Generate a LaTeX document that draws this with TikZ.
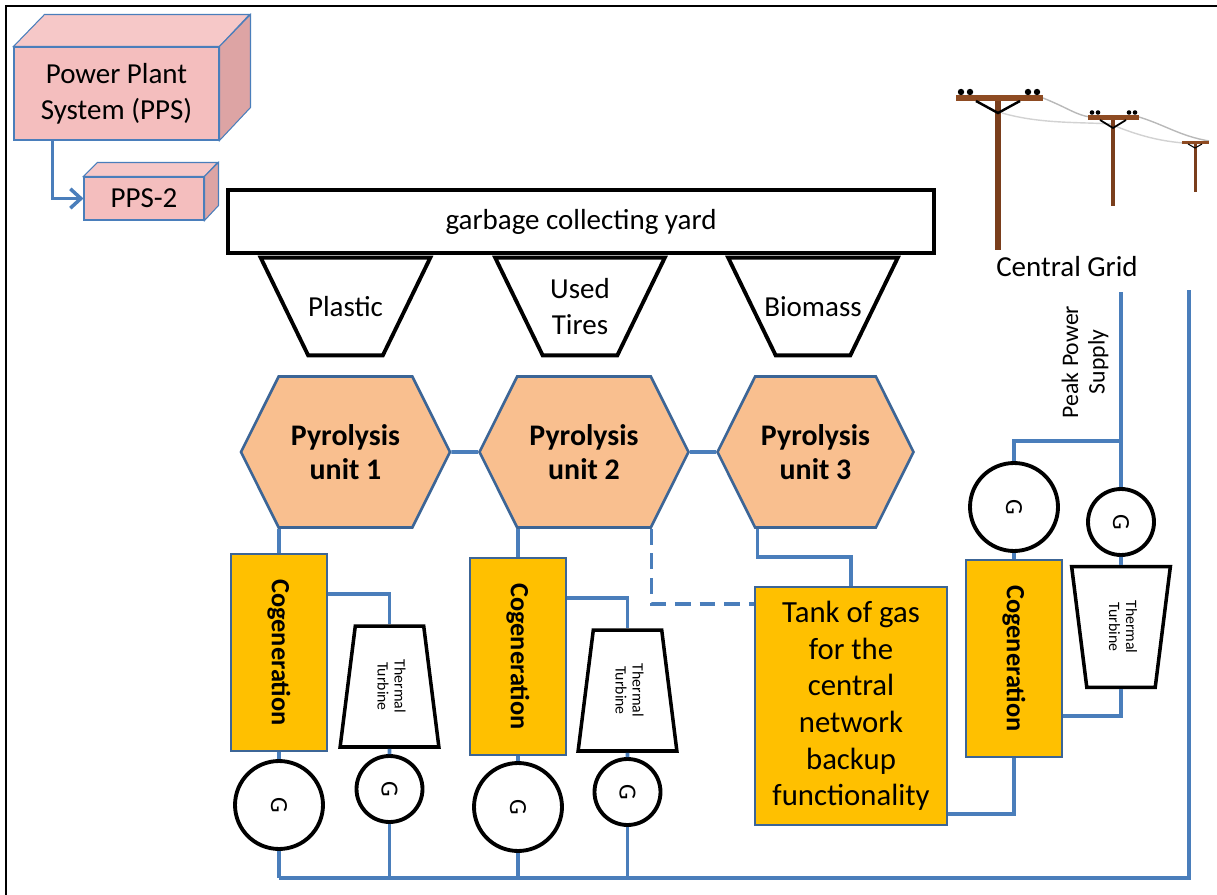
\documentclass[tikz,border=0pt]{standalone}
\usepackage{fontspec}
\setmainfont{Carlito}
\usepackage{graphicx}
\usetikzlibrary{arrows.meta,shapes.geometric,shapes.symbols,calc}
\definecolor{wire}{HTML}{4A7EBB}
\definecolor{rim}{HTML}{3C6596}
\definecolor{ppsfill}{HTML}{F4BEBE}
\definecolor{ppstop}{HTML}{F6C8C8}
\definecolor{ppsside}{HTML}{DDA4A4}
\definecolor{pyrofill}{HTML}{F9BF8F}
\definecolor{gold}{HTML}{FFC000}
\definecolor{polec}{HTML}{7A3E1C}
\definecolor{armc}{HTML}{8E4B22}
\newcommand{\bigtxt}{\fontsize{16.5}{20.5}\selectfont}
\newcommand{\turbtext}{\rotatebox{-90}{\begin{tabular}{@{}c@{}}Thermal\\Turbine\end{tabular}}}

\begin{document}
\begin{tikzpicture}[x=0.02cm, y=-0.02cm,
  link/.style={draw=wire, line width=2.2pt},
  face/.style={draw=wire, line width=0.6pt},
  pps/.style={face, fill=ppsfill, align=center, font=\bigtxt, inner sep=0pt},
  yard/.style={draw, line width=2.2pt, minimum width=14.12cm, minimum height=1.26cm, font=\bigtxt},
  hopper/.style={minimum width=3.38cm, minimum height=1.94cm, align=center, font=\bigtxt},
  funnel/.style={draw, line width=2.2pt},
  pyro/.style={signal, signal to=east and west, signal pointer angle=127, draw=rim, line width=1.5pt,
               fill=pyrofill, minimum width=4.18cm, minimum height=3.02cm, align=center,
               font=\fontsize{17}{19.5}\selectfont\bfseries},
  cogen/.style={draw=rim, line width=1.5pt, fill=gold, minimum width=1.92cm, minimum height=3.94cm,
                font=\fontsize{15}{18}\selectfont\bfseries},
  turbine/.style={trapezium, trapezium stretches=true, trapezium left angle=82, trapezium right angle=82,
                  draw, line width=2pt, fill=white, minimum width=1.98cm, minimum height=2.42cm, inner sep=0pt,
                  font=\fontsize{9}{9.6}\selectfont},
  gen/.style={circle, draw, line width=2.2pt, fill=white, inner sep=0pt, minimum size=1.76cm,
              font=\fontsize{14}{16}\selectfont},
  gen small/.style={gen, minimum size=1.32cm},
  tank/.style={draw=rim, line width=1.5pt, fill=gold, minimum width=3.84cm, minimum height=4.76cm,
               align=center, font=\fontsize{17.5}{20.8}\selectfont}]
\useasboundingbox (0,0) rectangle (1217,895);
\draw[line width=1.2pt] (6,895) -- (6,6) -- (1217,6);

% power plant boxes
\node[pps, minimum width=4.1cm, minimum height=1.86cm] (pps) at (116.5,93.5) {Power Plant\\System (PPS)};
\filldraw[face, fill=ppstop] (pps.north west) -- ++(31,-32) -- ++(205,0) -- (pps.north east) -- cycle;
\filldraw[face, fill=ppsside] (pps.north east) -- ++(31,-32) -- ++(0,93) -- (pps.south east) -- cycle;
\node[pps, minimum width=2.4cm, minimum height=0.86cm] (pps2) at (144,198.5) {PPS-2};
\filldraw[face, fill=ppstop] (pps2.north west) -- ++(14,-14) -- ++(120,0) -- (pps2.north east) -- cycle;
\filldraw[face, fill=ppsside] (pps2.north east) -- ++(14,-14) -- ++(0,43) -- (pps2.south east) -- cycle;
\draw[link, line width=2pt, -{Straight Barb[length=6pt,width=11pt]}] ($(pps.south west)+(39,0)$) |- (pps2.west);

% yard and hoppers
\node[yard] (yard) at (581,221.5) {garbage collecting yard};
\node[hopper] (plastic) at (345.5,306.5) {Plastic};
\node[hopper] (tires)   at (580,306.5)   {Used\\Tires};
\node[hopper] (biomass) at (813,306.5)   {Biomass};
\foreach \h in {plastic,tires,biomass}
  \draw[funnel] (\h.north west) -- (\h.north east) -- ($(\h.south east)+(-47.5,0)$)
                -- ($(\h.south west)+(47.5,0)$) -- cycle;

% pyrolysis units
\node[pyro] (pyro1) at (345.5,452) {Pyrolysis\\unit 1};
\node[pyro] (pyro2) at (584,452)   {Pyrolysis\\unit 2};
\node[pyro, minimum width=3.88cm] (pyro3) at (815.5,452) {Pyrolysis\\unit 3};
\draw[link] (pyro1) -- (pyro2);
\draw[link] (pyro2) -- (pyro3);

% cogeneration lines
\node[cogen] (cog1) at (279,652.5)  {\rotatebox{-90}{Cogeneration}};
\node[cogen] (cog2) at (518,656.5)  {\rotatebox{-90}{Cogeneration}};
\node[cogen] (cog3) at (1014,658.5) {\rotatebox{-90}{Cogeneration}};
\node[turbine] (turb1) at (389.5,686.5) {\turbtext};
\node[turbine] (turb2) at (627.5,690.5) {\turbtext};
\node[turbine, shape border rotate=180] (turb3) at (1121,627) {\turbtext};
\node[gen]       (g1)  at (279,805)    {\rotatebox{-90}{G}};
\node[gen small] (g1t) at (389.5,789)  {\rotatebox{-90}{G}};
\node[gen]       (g2)  at (518,807)    {\rotatebox{-90}{G}};
\node[gen small] (g2t) at (627.5,792)  {\rotatebox{-90}{G}};
\node[gen]       (g3)  at (1014,507)   {\rotatebox{-90}{G}};
\node[gen small] (g4)  at (1121,522)   {\rotatebox{-90}{G}};
\node[tank] (tank) at (851,706) {Tank of gas\\for the\\central\\network\\backup\\functionality};

\draw[link] (cog1.north) -- (cog1.north |- pyro1.south);
\draw[link] (cog2.north) -- (cog2.north |- pyro2.south);
\draw[link] ($(cog1.north east)+(0,41)$) -| (turb1.north);
\draw[link] ($(cog2.north east)+(0,41)$) -| (turb2.north);
\draw[link] (cog1.south) -- (g1.north);
\draw[link] (cog2.south) -- (g2.north);
\draw[link] (turb1.south) -- (g1t.north);
\draw[link] (turb2.south) -- (g2t.north);
\draw[link, dash pattern=on 9pt off 5pt] ($(pyro2.south)+(67.5,0)$) |- ($(tank.north west)+(0,18)$);
\draw[link] ($(pyro3.south)+(-58,0)$) |- ($(tank.north)+(0,-29)$) -- (tank.north);
\draw[link] ($(tank.south east)+(0,-12)$) -| (cog3.south);
\draw[link] (cog3.north) -- (g3.south);
\draw[link] (g4.south) -- (turb3.north);
\draw[link] (turb3.south) |- ($(cog3.south east)+(0,-42)$);

% grid feed and common bus
\coordinate (feed) at (1121,292);
\coordinate (gridin) at (1189,290);
\coordinate (busend) at (1189,878);
\draw[link] (feed) -- (g4.north);
\draw[link] (g3.north) |- ($(feed)+(0,149)$);
\draw[link] (gridin) -- (busend) -- (busend -| g1.south);
\foreach \g in {g1,g1t,g2,g2t}
  \draw[link] (\g.south) -- (\g.south |- busend);

\node[font=\bigtxt] (grid) at (1067,267) {Central Grid};
\node[rotate=90, align=center, font=\fontsize{13.5}{15}\selectfont] (peak) at (1085,362) {Peak Power\\Supply};

% utility poles
\draw[gray!55, line width=0.8pt] (1043,98) .. controls (1068,108) and (1076,115) .. (1090,117);
\draw[gray!35, line width=0.8pt] (1002,113) .. controls (1040,124) and (1080,122) .. (1111,124);
\draw[gray!55, line width=0.8pt] (1139,117) .. controls (1165,125) and (1180,136) .. (1209,141);
\draw[gray!35, line width=0.8pt] (1115,126) .. controls (1150,140) and (1170,142) .. (1194,144);
\fill[polec] (995,101) rectangle (1001,250);
\fill[armc] (956,95) rectangle (1043,101);
\draw[line width=1.4pt] (976,101) -- (998,113) -- (1020,101);
\foreach \x in {961,970,1028,1037} \fill (\x,92) circle (3.2);
\fill[polec] (1111,120) rectangle (1115,206);
\fill[armc] (1088,115) rectangle (1139,120);
\draw[line width=1pt] (1100,120) -- (1113,128) -- (1126,120);
\foreach \x in {1092,1098,1129,1135} \fill (\x,112.5) circle (2.3);
\fill[polec] (1194,143) rectangle (1196.5,192);
\fill[armc] (1182,141) rectangle (1209,144);
\draw[line width=0.6pt] (1188,144) -- (1195,148) -- (1202,144);
\end{tikzpicture}
\end{document}
